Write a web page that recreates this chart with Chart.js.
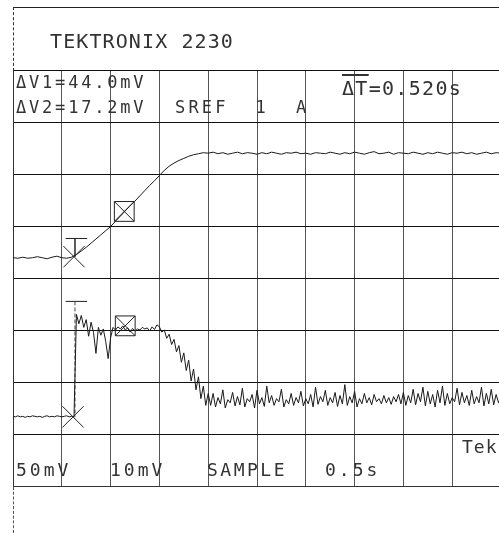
<!DOCTYPE html>
<html lang="en">
<head>
    <meta charset="UTF-8">
    <title>TEKTRONIX 2230</title>
    <script src="https://cdn.jsdelivr.net/npm/chart.js"></script>
    <style>
        body, html { margin: 0; padding: 0; background: #fff; overflow: hidden; width: 499px; height: 533px; }
        #wrap { position: absolute; left: 0; top: 0; width: 502px; height: 533px; }
        .txt {
            position: absolute;
            font-family: "DejaVu Sans Mono", monospace;
            color: #333;
            white-space: pre;
            line-height: 1;
        }
        .over { text-decoration: overline; }
        #frame-top { position: absolute; left: 13px; top: 7px; width: 490px; height: 63px; border-top: 1px solid #222; border-left: 1px dashed #333; }
        #frame-bot { position: absolute; left: 13px; top: 487px; height: 46px; border-left: 1px dashed #555; }
    </style>
</head>
<body>
<div id="frame-top"></div>
<div id="frame-bot"></div>
<div id="wrap"><canvas id="scope" width="502" height="533"></canvas></div>

<div class="txt" style="left:50px; top:31px; font-size:20px; letter-spacing:1.1px;">TEKTRONIX 2230</div>
<div class="txt" style="left:16px; top:74px; font-size:17px; letter-spacing:2.8px;">ΔV1=44.0mV</div>
<div class="txt" style="left:16px; top:99px; font-size:17px; letter-spacing:2.8px;">ΔV2=17.2mV</div>
<div class="txt" style="left:175px; top:99px; font-size:17px; letter-spacing:3.2px;">SREF  1  A</div>
<div class="txt" style="left:342px; top:78px; font-size:20px; letter-spacing:1.3px;"><span class="over">ΔT</span>=0.520s</div>
<div class="txt" style="left:16px; top:461px; font-size:18px; letter-spacing:3px;">50mV</div>
<div class="txt" style="left:110px; top:461px; font-size:18px; letter-spacing:3px;">10mV</div>
<div class="txt" style="left:207px; top:461px; font-size:18px; letter-spacing:2.5px;">SAMPLE</div>
<div class="txt" style="left:325px; top:461px; font-size:18px; letter-spacing:3px;">0.5s</div>
<div class="txt" style="left:462px; top:438px; font-size:18px; letter-spacing:1px;">Tek</div>

<script>
    // screen is 10 x 8 divisions, values below are in divisions
    var ch1Step = 0.1;
    var ch2Step = 0.05;

    // CH1 (50mV/div) - slow ramp
    var ch1Values = [
        4.39, 4.38, 4.40, 4.38, 4.39, 4.41, 4.39, 4.37, 4.40, 4.42,
        4.39, 4.38, 4.40, 4.45, 4.52, 4.59, 4.67, 4.75, 4.83, 4.91,
        4.99, 5.09, 5.19, 5.29, 5.39, 5.48, 5.58, 5.68, 5.78, 5.87,
        5.97, 6.07, 6.15, 6.21, 6.26, 6.30, 6.34, 6.37, 6.39, 6.41,
        6.40,
        6.42, 6.39, 6.41, 6.38, 6.40, 6.42, 6.39, 6.41, 6.40, 6.38,
        6.41, 6.39, 6.42, 6.40, 6.38, 6.41, 6.40, 6.42, 6.39, 6.40,
        6.38, 6.41, 6.40, 6.39, 6.42, 6.40, 6.38, 6.41, 6.39, 6.42,
        6.40, 6.38, 6.41, 6.43, 6.39, 6.40, 6.42, 6.38, 6.41, 6.40,
        6.39, 6.42, 6.40, 6.38, 6.41, 6.39, 6.42, 6.40, 6.38, 6.41,
        6.40, 6.42, 6.39, 6.41, 6.38, 6.40, 6.42, 6.39, 6.41, 6.40
    ];

    // CH2 (10mV/div) - step then drop, noisy
    var ch2Values = [
        1.34, 1.33, 1.35, 1.33, 1.34, 1.32, 1.34, 1.33, 1.35, 1.34,
        1.33, 1.34, 1.32, 1.34, 1.35, 1.33, 1.34, 1.33, 1.35, 1.34,
        1.33, 1.34, 1.35, 1.33, 1.34, 1.33,
        3.30, 3.12, 3.28, 3.05, 3.20, 2.88, 3.15, 2.95, 2.55, 3.05,
        2.90, 3.02, 2.78, 2.45, 2.85, 3.05, 3.00, 3.06, 3.02, 3.08,
        3.00, 3.04, 2.96, 3.03, 2.98, 3.02, 3.00, 3.05, 3.02, 3.04,
        2.98, 3.06, 3.01, 3.10, 3.06, 2.96, 3.00, 2.84, 2.92, 2.72,
        2.82, 2.58, 2.70, 2.38, 2.56, 2.22, 2.42, 2.02, 2.25, 1.85,
        2.10, 1.68, 1.92, 1.55, 1.78,
        1.55, 1.78, 1.52, 1.70, 1.58, 1.85, 1.50, 1.66, 1.60, 1.80,
        1.54, 1.72, 1.56, 1.88, 1.52, 1.68, 1.62, 1.76, 1.50, 1.84,
        1.58, 1.70, 1.53, 1.92, 1.60, 1.74, 1.55, 1.68, 1.62, 1.86,
        1.52, 1.66, 1.58, 1.78, 1.55, 1.70, 1.60, 1.82, 1.54, 1.68,
        1.58, 1.76, 1.52, 1.90, 1.57, 1.72, 1.62, 1.84, 1.55, 1.70,
        1.60, 1.80, 1.53, 1.74, 1.58, 1.95, 1.55, 1.72, 1.60, 1.82,
        1.52, 1.68, 1.58, 1.78, 1.60, 1.70, 1.56, 1.76, 1.62, 1.68,
        1.58, 1.74, 1.60, 1.70, 1.57, 1.72, 1.62, 1.76, 1.58, 1.80,
        1.55, 1.74, 1.60, 1.86, 1.56, 1.78, 1.62, 1.90, 1.54, 1.82,
        1.58, 1.76, 1.52, 1.84, 1.60, 1.92, 1.55, 1.78, 1.58, 1.70,
        1.62, 1.88, 1.56, 1.80, 1.60, 1.74, 1.55, 1.84, 1.58, 1.72,
        1.60, 1.90, 1.54, 1.78, 1.58, 1.86, 1.56, 1.76, 1.60, 1.74
    ];

    // cursor readouts (in divisions)
    var cursorX = [1.25, 1.23];         // X marks: ch1, ch2
    var cursorXLevel = [4.41, 1.33];
    var cursorBox = [2.28, 2.30];       // boxed marks
    var cursorBoxLevel = [5.28, 3.08];
    var barLeft = [1.08, 1.08];
    var barRight = [1.52, 1.52];
    var barLevel = [4.76, 3.55];
    var stemX = [1.27, 1.27];

    function toPoints(values, step) {
        return values.map(function(v, i) { return { x: i * step, y: v }; });
    }

    var traceStyle = { showLine: true, pointRadius: 0, borderWidth: 1, borderColor: '#1a1a1a', tension: 0 };

    var datasets = [
        Object.assign({ data: toPoints(ch1Values, ch1Step) }, traceStyle),
        Object.assign({ data: toPoints(ch2Values, ch2Step) }, traceStyle),
        {
            data: cursorX.map(function(x, i) { return { x: x, y: cursorXLevel[i] }; }),
            pointStyle: 'crossRot', pointRadius: 15, borderColor: '#222', borderWidth: 1, showLine: false
        },
        {
            data: cursorBox.map(function(x, i) { return { x: x, y: cursorBoxLevel[i] }; }),
            pointStyle: 'rect', pointRadius: 14, borderColor: '#222', backgroundColor: 'rgba(0,0,0,0)', borderWidth: 1, showLine: false
        },
        {
            data: cursorBox.map(function(x, i) { return { x: x, y: cursorBoxLevel[i] }; }),
            pointStyle: 'crossRot', pointRadius: 14, borderColor: '#222', borderWidth: 1, showLine: false
        }
    ];

    for (var i = 0; i < barLevel.length; i++) {
        datasets.push({
            data: [{ x: barLeft[i], y: barLevel[i] }, { x: barRight[i], y: barLevel[i] }],
            showLine: true, pointRadius: 0, borderColor: '#222', borderWidth: 1
        });
        datasets.push({
            data: [{ x: stemX[i], y: barLevel[i] }, { x: stemX[i], y: cursorXLevel[i] }],
            showLine: true, pointRadius: 0, borderColor: '#444', borderWidth: 1,
            borderDash: i === 1 ? [4, 2] : []
        });
    }

    new Chart(document.getElementById('scope').getContext('2d'), {
        type: 'scatter',
        data: { datasets: datasets },
        options: {
            responsive: false,
            animation: false,
            events: [],
            layout: { autoPadding: false, padding: { left: 13, right: 1, top: 70, bottom: 47 } },
            plugins: { legend: { display: false }, tooltip: { enabled: false } },
            scales: {
                x: {
                    type: 'linear', min: 0, max: 10,
                    ticks: { display: false, stepSize: 1 },
                    grid: { color: '#555', lineWidth: 1, drawTicks: false },
                    border: { display: true, color: '#333' }
                },
                y: {
                    type: 'linear', min: 0, max: 8,
                    ticks: { display: false, stepSize: 1 },
                    grid: { color: '#111', lineWidth: 1, drawTicks: false },
                    border: { display: true, color: '#333' }
                }
            }
        }
    });
</script>
</body>
</html>
